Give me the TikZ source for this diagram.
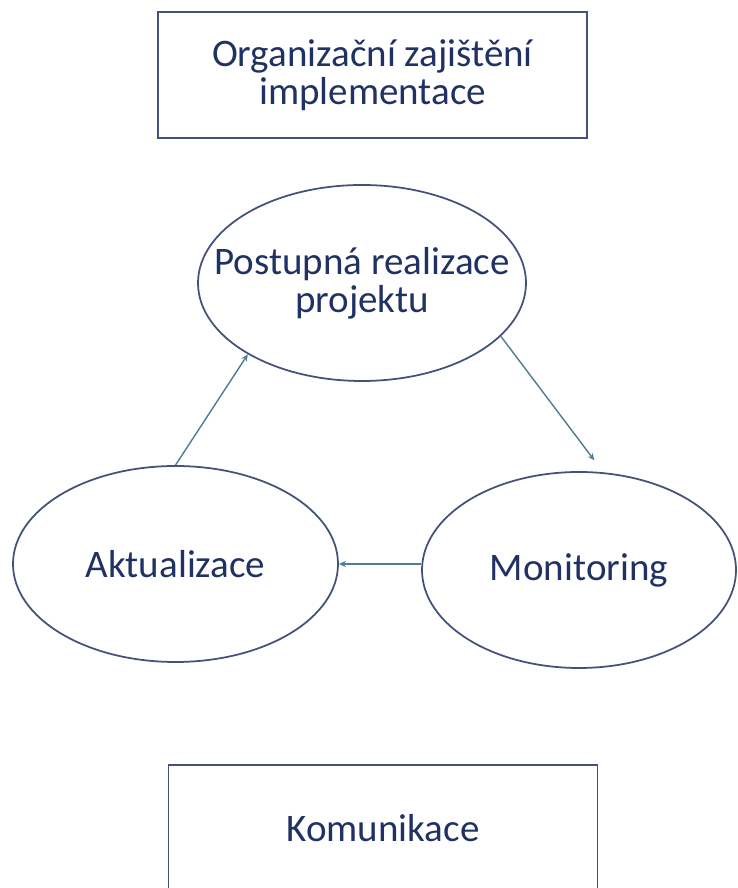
\documentclass[tikz,border=0pt]{standalone}
\usepackage{fontspec}
\setmainfont{Carlito}
\usepackage{tikz}
\usetikzlibrary{shapes.geometric, arrows.meta}

\definecolor{textblue}{HTML}{1F3263}
\definecolor{edgeblue}{HTML}{44527A}
\definecolor{arrowblue}{HTML}{4E7C90}

\tikzset{
  box/.style = {draw=edgeblue, line width=1pt, minimum width=8.58cm, minimum height=2.52cm, align=center},
  stage/.style = {ellipse, draw=edgeblue, line width=1pt, inner xsep=-0.8cm, inner ysep=0pt, minimum height=3.92cm, align=center},
  flow/.style = {arrowblue, line width=0.8pt, -{Stealth[length=4pt, width=3.5pt]}}
}

\begin{document}
\begin{tikzpicture}[font=\fontsize{22.2}{21.5}\selectfont, text=textblue]

\useasboundingbox ( 0, 0 ) rectangle ( 14.76, 17.76 );
\clip ( 0, 0 ) rectangle ( 14.76, 17.76 );

% Boxes
\node [box] (org) at ( 7.45, 16.26 ) {Organizační zajištění\\implementace};
\node [box] (kom) at ( 7.66, 1.20 ) {Komunikace};

% Cycle
\node [stage, minimum width=6.56cm] (real) at ( 7.24, 12.10 ) {Postupná realizace\\projektu};
\node [stage, minimum width=6.50cm] (akt) at ( 3.51, 6.48 ) {Aktualizace};
\node [stage, minimum width=6.28cm] (mon) at ( 11.58, 6.36 ) {Monitoring};

% Arrows
\draw [flow] (akt.north) -- (real.212);
\draw [flow, shorten >=0.3cm] (real.-21) -- (mon.76);
\draw [flow, line width=1.2pt] (mon.west |- akt.east) -- (akt.east);

\end{tikzpicture}
\end{document}
